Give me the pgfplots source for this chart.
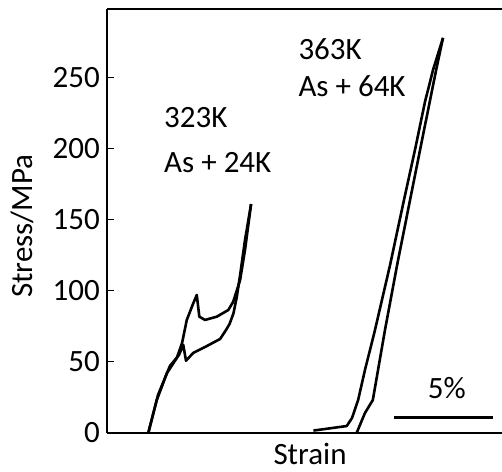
\documentclass[border=0pt]{standalone}
\usepackage{fontspec}
\setmainfont{Carlito}
\usepackage{pgfplots}
\pgfplotsset{compat=1.18}
\newcommand{\lbl}{\fontsize{31}{37}\selectfont}

\begin{document}
\begin{tikzpicture}
\begin{axis}[
    name=ax,
    width=395pt, height=423.2pt, scale only axis,
    xmin=0, xmax=20.15, ymin=0, ymax=298,
    axis x line*=bottom, axis y line*=left,
    axis line style={line width=2pt, -},
    xtick=\empty,
    ytick={0,50,...,250},
    tick align=inside,
    major tick length=7pt,
    tick style={line width=1.5pt, black},
    y tick label style={font=\lbl, inner sep=0pt, xshift=-7pt},
    /pgf/number format/assume math mode=true,
    xlabel={Strain}, ylabel={Stress/MPa},
    label style={font=\lbl},
    xlabel style={at={(axis description cs:0.514,-0.075)}, anchor=base},
    ylabel style={at={(axis description cs:-0.215,0.488)}, anchor=center},
    clip=false,
]
% 323K, loading
\addplot[black, line width=2.6pt, line join=round] coordinates {
    (2.11,0) (2.54,23.0) (3.05,41.8) (3.56,52.6) (3.83,63.2) (4.07,79.4)
    (4.40,91.1) (4.58,97.0) (4.71,81.7) (5.00,79.4) (5.60,81.7) (6.19,86.4)
    (6.44,92.3) (6.79,107.5) (7.04,128.7) (7.35,161.0)
};
% 323K, unloading
\addplot[black, line width=2.6pt, line join=round] coordinates {
    (7.35,161.0) (7.04,135.7) (6.79,111.0) (6.62,95.5) (6.45,84.0) (6.25,76.5)
    (6.07,72.3) (5.77,66.0) (5.09,61.0) (4.40,56.2) (4.03,50.7) (3.89,61.8)
    (3.67,54.7) (3.21,47.0) (2.60,26.5) (2.11,0)
};
% 363K, loading
\addplot[black, line width=2.6pt, line join=round] coordinates {
    (10.53,1.5) (12.23,4.7) (12.50,10.4) (12.81,23.0) (13.16,44.2) (13.67,72.3)
    (14.44,118.1) (15.15,163.9) (15.71,199.1) (16.22,232.9) (16.63,255.4) (17.14,278.0)
};
% 363K, unloading
\addplot[black, line width=2.6pt, line join=round] coordinates {
    (17.14,278.0) (16.79,255.4) (16.38,227.3) (15.97,199.1) (15.46,163.9)
    (14.80,118.1) (14.18,72.3) (13.56,23.0) (13.16,13.9) (12.74,0)
};
% scale bar
\addplot[black, line width=3pt] coordinates {(14.64,10.6) (19.69,10.6)};

\draw[line width=2pt] (rel axis cs:0,1) -- (rel axis cs:1,1);
\node[anchor=base west, font=\lbl, inner sep=0pt] at (axis cs:2.91,214.6) {323K};
\node[anchor=base west, font=\lbl, inner sep=0pt] at (axis cs:2.91,183.0) {As + 24K};
\node[anchor=base west, font=\lbl, inner sep=0pt] at (axis cs:9.76,262.5) {363K};
\node[anchor=base west, font=\lbl, inner sep=0pt] at (axis cs:9.76,236.4) {As + 64K};
\node[anchor=base west, font=\lbl, inner sep=0pt] at (axis cs:16.36,24.4) {5\%};
\end{axis}
\pgfresetboundingbox
\path ([xshift=-107pt,yshift=-38.3pt]ax.south west) rectangle ([yshift=9.5pt]ax.north east);
\end{tikzpicture}
\end{document}
